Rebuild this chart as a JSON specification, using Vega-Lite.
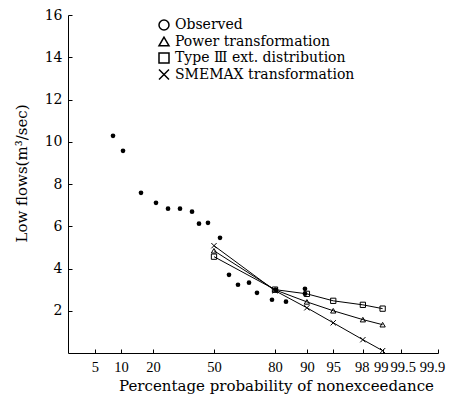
{
  "$schema": "https://vega.github.io/schema/vega-lite/v6.json",
  "width": 370,
  "height": 338,
  "autosize": {"type": "none"},
  "padding": {"left": 68, "top": 15, "right": 37, "bottom": 53},
  "background": "white",
  "config": {
    "view": {"stroke": null},
    "font": "DejaVu Serif",
    "axis": {
      "grid": false,
      "domainColor": "black",
      "domainWidth": 1,
      "tickColor": "black",
      "tickWidth": 1,
      "tickSize": -4,
      "labelColor": "black",
      "labelFont": "DejaVu Serif",
      "labelFontSize": 14,
      "titleColor": "black",
      "titleFont": "DejaVu Serif",
      "titleFontWeight": "normal",
      "titleFontSize": 15,
      "labelOverlap": false,
      "labelBound": false,
      "labelFlush": false
    },
    "legend": {
      "labelFont": "DejaVu Serif",
      "labelFontSize": 14,
      "labelColor": "black",
      "labelLimit": 400,
      "padding": 0
    }
  },
  "datasets": {
    "observed": [
      {"series": "Observed", "p": 8.2, "z": -1.393, "flow": 10.28},
      {"series": "Observed", "p": 10.5, "z": -1.255, "flow": 9.57},
      {"series": "Observed", "p": 15.7, "z": -1.007, "flow": 7.58},
      {"series": "Observed", "p": 21.2, "z": -0.8, "flow": 7.11},
      {"series": "Observed", "p": 26.3, "z": -0.634, "flow": 6.83},
      {"series": "Observed", "p": 31.9, "z": -0.469, "flow": 6.83},
      {"series": "Observed", "p": 38.1, "z": -0.303, "flow": 6.69},
      {"series": "Observed", "p": 41.8, "z": -0.207, "flow": 6.12},
      {"series": "Observed", "p": 46.7, "z": -0.083, "flow": 6.16},
      {"series": "Observed", "p": 53.3, "z": 0.083, "flow": 5.45},
      {"series": "Observed", "p": 58.2, "z": 0.207, "flow": 3.7},
      {"series": "Observed", "p": 63.0, "z": 0.331, "flow": 3.23},
      {"series": "Observed", "p": 68.5, "z": 0.483, "flow": 3.33},
      {"series": "Observed", "p": 72.3, "z": 0.593, "flow": 2.85},
      {"series": "Observed", "p": 78.8, "z": 0.8, "flow": 2.52},
      {"series": "Observed", "p": 80.4, "z": 0.855, "flow": 2.99},
      {"series": "Observed", "p": 84.0, "z": 0.993, "flow": 2.43},
      {"series": "Observed", "p": 89.5, "z": 1.255, "flow": 3.04},
      {"series": "Observed", "p": 89.5, "z": 1.255, "flow": 2.81}
    ],
    "fits": [
      {"series": "Power transformation", "p": 50, "z": 0, "flow": 4.84},
      {"series": "Power transformation", "p": 80, "z": 0.8416, "flow": 2.99},
      {"series": "Power transformation", "p": 90, "z": 1.2816, "flow": 2.42},
      {"series": "Power transformation", "p": 95, "z": 1.6449, "flow": 2.0},
      {"series": "Power transformation", "p": 98, "z": 2.0537, "flow": 1.58},
      {"series": "Power transformation", "p": 99, "z": 2.3263, "flow": 1.34},
      {"series": "Type Ⅲ ext. distribution", "p": 50, "z": 0, "flow": 4.56},
      {"series": "Type Ⅲ ext. distribution", "p": 80, "z": 0.8416, "flow": 3.0},
      {"series": "Type Ⅲ ext. distribution", "p": 90, "z": 1.2816, "flow": 2.8},
      {"series": "Type Ⅲ ext. distribution", "p": 95, "z": 1.6449, "flow": 2.47},
      {"series": "Type Ⅲ ext. distribution", "p": 98, "z": 2.0537, "flow": 2.28},
      {"series": "Type Ⅲ ext. distribution", "p": 99, "z": 2.3263, "flow": 2.1},
      {"series": "SMEMAX transformation", "p": 50, "z": 0, "flow": 5.08},
      {"series": "SMEMAX transformation", "p": 80, "z": 0.8416, "flow": 2.95},
      {"series": "SMEMAX transformation", "p": 90, "z": 1.2816, "flow": 2.14},
      {"series": "SMEMAX transformation", "p": 95, "z": 1.6449, "flow": 1.43},
      {"series": "SMEMAX transformation", "p": 98, "z": 2.0537, "flow": 0.63},
      {"series": "SMEMAX transformation", "p": 99, "z": 2.3263, "flow": 0.11}
    ]
  },
  "encoding": {
    "x": {
      "field": "z",
      "type": "quantitative",
      "scale": {"domain": [-2.014, 3.0902], "nice": false, "zero": false},
      "axis": {
        "title": "Percentage probability of nonexceedance",
        "values": [-1.6449, -1.2816, -0.8416, 0, 0.8416, 1.2816, 1.6449, 2.0537, 2.3263, 2.5758, 3.0902],
        "labelExpr": "format(cumulativeNormal(datum.value) * 100, '.3~r')",
        "labelFont": "Liberation Serif",
        "labelFontSize": 14.5,
        "labelPadding": 11,
        "labelOffset": {
          "condition": [
            {"test": "datum.value > 2 && datum.value < 2.1", "value": -1},
            {"test": "datum.value > 2.3 && datum.value < 2.4", "value": -2},
            {"test": "datum.value > 2.5 && datum.value < 2.6", "value": 2},
            {"test": "datum.value > 3", "value": -6}
          ],
          "value": 0
        },
        "titleX": 208,
        "titleY": 37,
        "titleBaseline": "alphabetic",
        "titleAlign": "center"
      }
    },
    "y": {
      "field": "flow",
      "type": "quantitative",
      "scale": {"domain": [0, 16], "nice": false},
      "axis": {
        "title": "Low flows(m³/sec)",
        "values": [2, 4, 6, 8, 10, 12, 14, 16],
        "labelPadding": 10,
        "titleX": -47,
        "titleY": 158,
        "titleAngle": -90,
        "titleBaseline": "middle",
        "titleAlign": "center"
      }
    }
  },
  "layer": [
    {
      "data": {"name": "fits"},
      "mark": {"type": "line", "color": "black", "strokeWidth": 1},
      "encoding": {
        "detail": {"field": "series"},
        "order": {"field": "z", "type": "quantitative"}
      }
    },
    {
      "data": {"name": "fits"},
      "mark": {"type": "point", "filled": false, "color": "black", "size": 28, "strokeWidth": 1, "opacity": 1},
      "encoding": {
        "shape": {
          "field": "series",
          "type": "nominal",
          "scale": {
            "domain": ["Observed", "Power transformation", "Type Ⅲ ext. distribution", "SMEMAX transformation"],
            "range": ["circle", "triangle-up", "square", "M-1,-1L1,1M1,-1L-1,1"]
          },
          "legend": {
            "title": null,
            "orient": "none",
            "legendX": 89,
            "legendY": 3,
            "rowPadding": 0.5,
            "labelOffset": 4,
            "labelLimit": 400,
            "symbolSize": 100,
            "encode": {
              "symbols": {
                "update": {
                  "fill": {"value": "transparent"},
                  "stroke": {"value": "black"},
                  "strokeWidth": {"value": 1},
                  "size": {"value": 100},
                  "opacity": {"value": 1}
                }
              }
            }
          }
        }
      }
    },
    {
      "data": {"name": "observed"},
      "mark": {"type": "point", "filled": true, "color": "black", "size": 22, "opacity": 1},
      "encoding": {
        "shape": {"field": "series", "type": "nominal"}
      }
    }
  ]
}
